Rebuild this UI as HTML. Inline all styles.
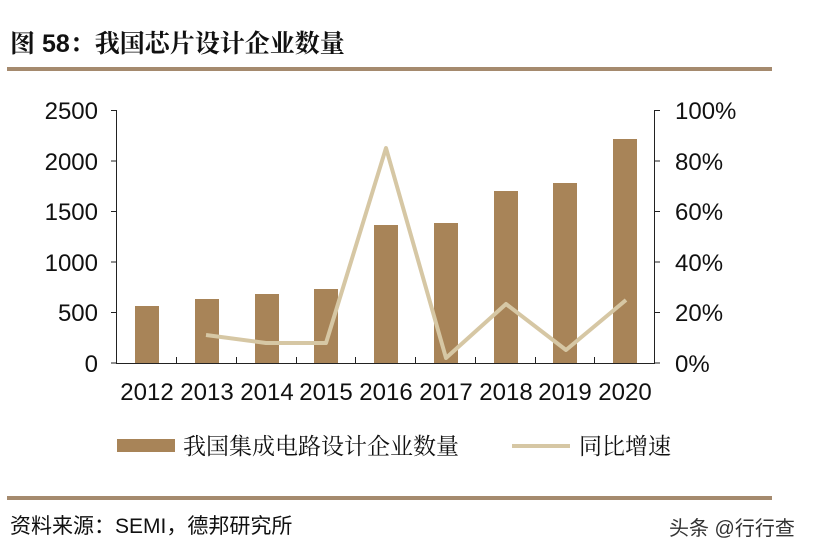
<!DOCTYPE html><html><head><meta charset="utf-8"><style>
body{margin:0;background:#fff;width:814px;height:555px;overflow:hidden;font-family:"Liberation Sans","Noto Sans CJK SC",sans-serif}
</style></head><body>
<svg width="814" height="555" xmlns="http://www.w3.org/2000/svg" style="position:absolute;left:0;top:0">
<text x="10" y="52" font-size="25" font-weight="bold" font-family="Liberation Sans,Noto Serif CJK SC,serif" fill="#111">图 58：我国芯片设计企业数量</text>
<rect x="7" y="67" width="765" height="4" fill="#a58a6e"/>
<rect x="7" y="496" width="765" height="4" fill="#a58a6e"/>
<g fill="#a88458">
<rect x="135" y="306" width="24" height="57"/>
<rect x="195" y="299" width="24" height="64"/>
<rect x="255" y="294" width="24" height="69"/>
<rect x="314" y="289" width="24" height="74"/>
<rect x="374" y="225" width="24" height="138"/>
<rect x="434" y="223" width="24" height="140"/>
<rect x="494" y="191" width="24" height="172"/>
<rect x="553" y="183" width="24" height="180"/>
<rect x="613" y="139" width="24" height="224"/>
</g>
<g stroke="#222" stroke-width="1" fill="none">
<path d="M116.5 110V363.5H654.5V110"/>
<path d="M111 110.5h6M111 161h6M111 211.5h6M111 262h6M111 312.5h6M111 363h6"/>
<path d="M654 110.5h6M654 161h6M654 211.5h6M654 262h6M654 312.5h6M654 363h6"/>
<path d="M176.5 357v6M236.5 357v6M296.5 357v6M355.5 357v6M415.5 357v6M475.5 357v6M535.5 357v6M594.5 357v6"/>
</g>
<polyline points="206,335 266,343 326,343 386,148 446,358 506,304 566,350 626,300" fill="none" stroke="#d6c7a4" stroke-width="4" stroke-linejoin="round"/>
<g font-size="24" fill="#111" text-anchor="end">
<text x="98" y="119">2500</text><text x="98" y="170">2000</text><text x="98" y="220">1500</text><text x="98" y="271">1000</text><text x="98" y="321">500</text><text x="98" y="372">0</text>
</g>
<g font-size="24" fill="#111">
<text x="675" y="119">100%</text><text x="675" y="170">80%</text><text x="675" y="220">60%</text><text x="675" y="271">40%</text><text x="675" y="321">20%</text><text x="675" y="372">0%</text>
</g>
<g font-size="24" fill="#111" text-anchor="middle">
<text x="147" y="400">2012</text><text x="207" y="400">2013</text><text x="267" y="400">2014</text><text x="326" y="400">2015</text><text x="386" y="400">2016</text><text x="446" y="400">2017</text><text x="506" y="400">2018</text><text x="565" y="400">2019</text><text x="625" y="400">2020</text>
</g>
<rect x="117" y="439" width="58" height="13" fill="#a88458"/>
<text x="183" y="454" font-size="23" fill="#111" font-family="Liberation Sans,Noto Serif CJK SC,serif">我国集成电路设计企业数量</text>
<line x1="512" y1="446" x2="570" y2="446" stroke="#d6c7a4" stroke-width="4"/>
<text x="579" y="454" font-size="23" fill="#111" font-family="Liberation Sans,Noto Serif CJK SC,serif">同比增速</text>
<text x="10" y="533" font-size="21" fill="#111">资料来源：SEMI，德邦研究所</text>
<text x="669" y="535" font-size="20" fill="#333">头条 @行行查</text>
</svg>
</body></html>
